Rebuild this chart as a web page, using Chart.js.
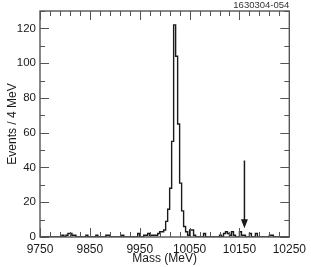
<!DOCTYPE html>
<html>
<head>
<meta charset="utf-8">
<script src="https://cdn.jsdelivr.net/npm/chart.js@4.4.1/dist/chart.umd.min.js"></script>
<style>
  html, body { margin: 0; padding: 0; background: #fff; }
  #wrap { width: 311px; height: 267px; position: relative; }
</style>
</head>
<body>
<div id="wrap"><canvas id="massChart"></canvas></div>
<script>
// histogram: 4 MeV bins from 9750 to 10250 MeV
const binStart = 9750
const binWidth = 4
const counts = [
  0, 0, 0, 0, 0, 0, 0, 0, 0, 0,
  0, 1, 0, 1, 2, 2, 1, 1, 0, 0,
  0, 0, 0, 1, 0, 0, 0, 0, 1, 0,
  0, 0, 0, 1, 1, 0, 0, 0, 0, 0,
  0, 1, 0, 0, 0, 0, 0, 0, 0, 2,
  0, 0, 1, 1, 2, 1, 1, 1, 1, 2,
  3, 3, 4, 9, 16, 28, 55, 122, 104, 65,
  31, 15, 6, 3, 1, 4, 4, 1, 0, 0,
  0, 0, 2, 0, 0, 0, 0, 0, 0, 0,
  1, 0, 2, 3, 2, 1, 3, 1, 0, 0,
  3, 1, 1, 0, 0, 2, 0, 0, 2, 0,
  0, 0, 0, 0, 0, 1, 1, 0, 0, 0,
  0, 0, 0, 0, 0,
]
const xLabels = [9750, 9850, 9950, 10050, 10150, 10250]
const yLabels = [0, 20, 40, 60, 80, 100, 120]
const arrowMass = 10160
const arrowFrom = 44
const arrowTo = 5
const figId = '1630304-054'

const points = counts.map((c, i) => ({ x: binStart + i * binWidth, y: c }))
points.push({ x: binStart + counts.length * binWidth, y: 0 })

const ink = '#1a1a1a'
const frameColor = '#555'
const font = 'Liberation Sans, Arial, Helvetica, sans-serif'

const framePlugin = {
  id: 'frame',
  afterDatasetsDraw(chart) {
    const { ctx, chartArea: a, scales } = chart
    const x = scales.x
    const y = scales.y
    ctx.save()
    ctx.strokeStyle = frameColor
    ctx.lineWidth = 1
    // y ticks (inward, both sides)
    for (let v = 0; v <= 130; v += 10) {
      const py = Math.round(y.getPixelForValue(v)) + 0.5
      const len = v % 20 === 0 ? 9 : 5
      ctx.beginPath()
      ctx.moveTo(a.left, py); ctx.lineTo(a.left + len, py)
      ctx.moveTo(a.right, py); ctx.lineTo(a.right - len, py)
      ctx.stroke()
    }
    // x ticks (inward, top and bottom)
    for (let v = 9750; v <= 10250; v += 20) {
      const px = Math.round(x.getPixelForValue(v)) + 0.5
      const len = (v - 9750) % 100 === 0 ? 9 : 5
      ctx.beginPath()
      ctx.moveTo(px, a.bottom); ctx.lineTo(px, a.bottom - len)
      ctx.moveTo(px, a.top); ctx.lineTo(px, a.top + len)
      ctx.stroke()
    }
    ctx.lineWidth = 1.4
    ctx.strokeRect(a.left, a.top, a.right - a.left, a.bottom - a.top)

    // arrow marker
    const ax = x.getPixelForValue(arrowMass)
    const ay0 = y.getPixelForValue(arrowFrom)
    const ay1 = y.getPixelForValue(arrowTo)
    ctx.strokeStyle = ink
    ctx.fillStyle = ink
    ctx.lineWidth = 1.5
    ctx.beginPath()
    ctx.moveTo(ax, ay0); ctx.lineTo(ax, ay1 - 6)
    ctx.stroke()
    ctx.beginPath()
    ctx.moveTo(ax, ay1)
    ctx.lineTo(ax - 3.5, ay1 - 9)
    ctx.lineTo(ax + 3.5, ay1 - 9)
    ctx.closePath()
    ctx.fill()

    // figure id
    ctx.font = '9.5px ' + font
    ctx.fillStyle = '#333'
    ctx.textAlign = 'right'
    ctx.textBaseline = 'middle'
    ctx.fillText(figId, a.right, 5)
    ctx.restore()
  },
}

new Chart(document.getElementById('massChart'), {
  type: 'line',
  data: {
    datasets: [
      {
        data: points,
        stepped: true,
        borderColor: ink,
        borderWidth: 1.4,
        pointRadius: 0,
        fill: false,
      },
    ],
  },
  options: {
    responsive: true,
    maintainAspectRatio: false,
    animation: false,
    layout: { padding: { top: 11, right: 18, left: 0, bottom: 0 } },
    plugins: { legend: { display: false }, tooltip: { enabled: false } },
    scales: {
      x: {
        type: 'linear',
        min: 9750,
        max: 10250,
        grid: { display: false, drawTicks: false },
        border: { display: false },
        afterBuildTicks: (s) => { s.ticks = xLabels.map((v) => ({ value: v })) },
        afterFit: (s) => { s.height = 30 },
        ticks: {
          padding: 5,
          maxRotation: 0,
          autoSkip: false,
          color: ink,
          font: { family: font, size: 12 },
          callback: (v) => String(v),
        },
        title: {
          display: true,
          text: 'Mass (MeV)',
          color: ink,
          font: { family: font, size: 12 },
          padding: { top: 0, bottom: 1 },
        },
      },
      y: {
        min: 0,
        max: 130,
        grid: { display: false, drawTicks: false },
        border: { display: false },
        afterBuildTicks: (s) => { s.ticks = yLabels.map((v) => ({ value: v })) },
        afterFit: (s) => { s.width = 40 },
        ticks: {
          padding: 4,
          color: ink,
          font: { family: font, size: 11.5 },
        },
        title: {
          display: true,
          text: 'Events / 4 MeV',
          color: ink,
          font: { family: font, size: 12 },
          padding: { top: 5, bottom: 0 },
        },
      },
    },
  },
  plugins: [framePlugin],
})
</script>
</body>
</html>
